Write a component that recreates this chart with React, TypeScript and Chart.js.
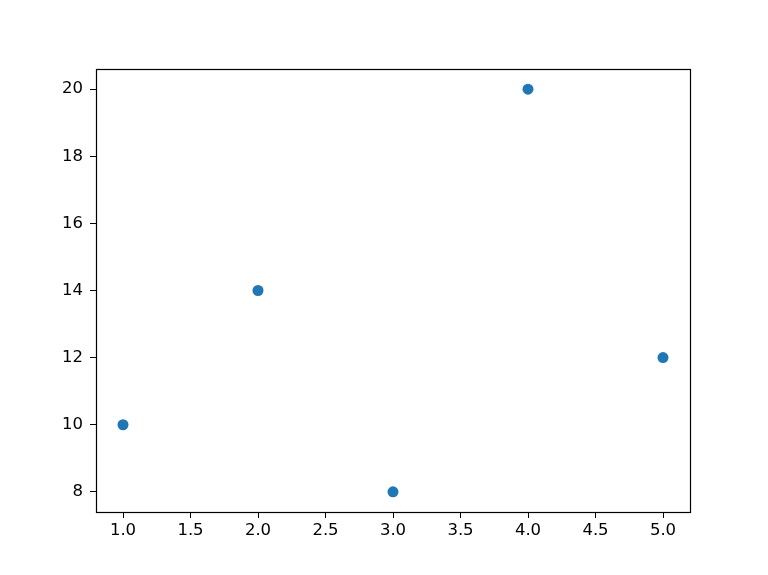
import React, { useEffect, useRef } from "react";
import { Chart, registerables } from "chart.js";

Chart.register(...registerables);

const xValues = [1, 2, 3, 4, 5];
const yValues = [10, 14, 8, 20, 12];
const xTicks = [1.0, 1.5, 2.0, 2.5, 3.0, 3.5, 4.0, 4.5, 5.0];
const yTicks = [8, 10, 12, 14, 16, 18, 20];

const boxPlugin = {
  id: "boxPlugin",
  afterDraw(chart: any) {
    const { ctx, chartArea } = chart;
    ctx.save();
    ctx.strokeStyle = "#000";
    ctx.lineWidth = 1.2;
    ctx.strokeRect(
      Math.round(chartArea.left) + 0.5,
      Math.round(chartArea.top) + 0.5,
      Math.round(chartArea.right - chartArea.left),
      Math.round(chartArea.bottom - chartArea.top)
    );
    ctx.restore();
  },
};

export default function App() {
  const ref = useRef<HTMLCanvasElement>(null);
  useEffect(() => {
    document.body.style.margin = "0";
    const font = { family: "DejaVu Sans", size: 16.5 };
    const chart = new Chart(ref.current!, {
      type: "scatter",
      data: {
        datasets: [
          {
            data: xValues.map((x, i) => ({ x, y: yValues[i] })),
            backgroundColor: "#1f77b4",
            borderColor: "#1f77b4",
            pointRadius: 5.5,
            pointHoverRadius: 5.5,
            borderWidth: 0,
          },
        ],
      },
      options: {
        responsive: false,
        animation: false,
        events: [],
        layout: { padding: { left: 0, top: 69, right: 78, bottom: 0 } },
        plugins: { legend: { display: false }, tooltip: { enabled: false } },
        scales: {
          x: {
            type: "linear",
            min: 0.8,
            max: 5.2,
            afterBuildTicks: (s: any) => {
              s.ticks = xTicks.map((v) => ({ value: v }));
            },
            afterFit: (s: any) => {
              s.height = 63;
            },
            ticks: {
              font,
              color: "#000",
              padding: 3,
              maxRotation: 0,
              autoSkip: false,
              callback: (v: any) => Number(v).toFixed(1),
            },
            grid: { drawOnChartArea: false, drawTicks: true, tickLength: 6, color: "#000", tickWidth: 1 },
            border: { display: false },
          },
          y: {
            type: "linear",
            min: 7.4,
            max: 20.6,
            afterBuildTicks: (s: any) => {
              s.ticks = yTicks.map((v) => ({ value: v }));
            },
            afterFit: (s: any) => {
              s.width = 96;
            },
            ticks: {
              font,
              color: "#000",
              padding: 7,
              autoSkip: false,
              callback: (v: any) => String(v),
            },
            grid: { drawOnChartArea: false, drawTicks: true, tickLength: 6, color: "#000", tickWidth: 1 },
            border: { display: false },
          },
        },
      },
      plugins: [boxPlugin],
    });
    return () => chart.destroy();
  }, []);
  return (
    <div style={{ position: "absolute", left: 0, top: 0, width: 768, height: 575, background: "#fff" }}>
      <canvas ref={ref} width={768} height={575} style={{ width: 768, height: 575 }} />
    </div>
  );
}
